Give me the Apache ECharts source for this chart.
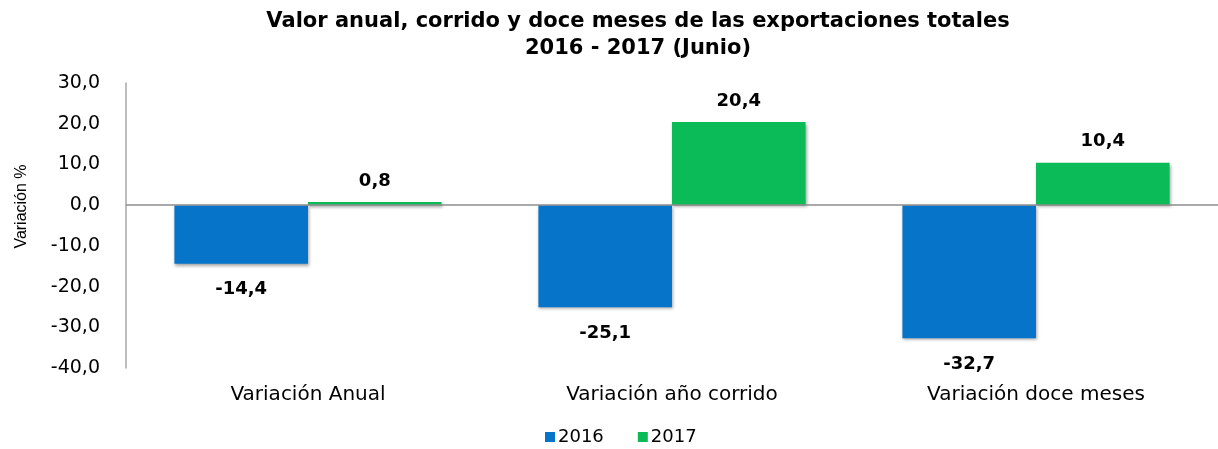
<!DOCTYPE html>
<html>
<head>
<meta charset="utf-8">
<script src="https://cdn.jsdelivr.net/npm/echarts@6/dist/echarts.min.js"></script>
<style>
    html, body { margin: 0; padding: 0; background: #fff; }
    #chart { width: 1218px; height: 449px; }
</style>
</head>
<body>
<div id="chart"></div>
<script>
    var categories = ['Variación Anual', 'Variación año corrido', 'Variación doce meses'];
    var values2016 = [-14.4, -25.1, -32.7];
    var values2017 = [0.8, 20.4, 10.4];
    var seriesNames = ['2016', '2017'];

    function fmt(v) {
        return v.toFixed(1).replace('.', ',');
    }

    // negative bars carry their label under the bar end
    function toData(arr) {
        return arr.map(function (v) {
            return {
                value: v,
                label: v < 0 ? { position: 'bottom', distance: 17 } : { position: 'top', distance: 12 }
            };
        });
    }

    var chart = echarts.init(document.getElementById('chart'));

    var barLabel = {
        show: true,
        fontFamily: 'DejaVu Sans',
        fontWeight: 'bold',
        fontSize: 18,
        color: '#000',
        formatter: function (p) { return fmt(p.value); }
    };
    var shadow = {
        shadowBlur: 3,
        shadowColor: 'rgba(0,0,0,0.35)',
        shadowOffsetX: 1,
        shadowOffsetY: 2
    };

    chart.setOption({
        animation: false,
        title: {
            text: 'Valor anual, corrido y doce meses de las exportaciones totales\n2016 - 2017 (Junio)',
            left: 633,
            textAlign: 'center',
            top: 3,
            textStyle: {
                fontFamily: 'DejaVu Sans',
                fontWeight: 'bold',
                fontSize: 21,
                lineHeight: 27,
                color: '#000'
            }
        },
        legend: {
            data: seriesNames,
            top: 423,
            left: 540,
            itemWidth: 10,
            itemHeight: 10,
            itemGap: 34,
            icon: 'rect',
            textStyle: { fontFamily: 'DejaVu Sans', fontSize: 18, color: '#000', padding: [0, 0, 0, -2] }
        },
        grid: {
            left: 126,
            right: -12,
            top: 83,
            bottom: 81
        },
        xAxis: {
            type: 'category',
            data: categories,
            axisLine: { show: false, onZero: false },
            axisTick: { show: false },
            axisLabel: {
                margin: 17,
                fontFamily: 'DejaVu Sans',
                fontSize: 20,
                color: '#000'
            }
        },
        yAxis: {
            type: 'value',
            min: -40,
            max: 30,
            interval: 10,
            name: 'Variación %',
            nameLocation: 'middle',
            nameGap: 96,
            nameTextStyle: {
                fontFamily: 'Liberation Sans',
                fontSize: 16,
                color: '#000',
                padding: [0, 0, 0, 38]
            },
            axisLine: { show: true, lineStyle: { color: '#a6a6a6', width: 1.5 } },
            axisTick: { show: false },
            splitLine: { show: false },
            axisLabel: {
                margin: 26,
                fontFamily: 'DejaVu Sans',
                fontSize: 19,
                color: '#000',
                formatter: function (v) { return fmt(v); }
            }
        },
        series: [
            {
                name: seriesNames[0],
                type: 'bar',
                data: toData(values2016),
                barGap: '0%',
                barCategoryGap: '26.6%',
                itemStyle: Object.assign({ color: '#0675C9' }, shadow),
                label: barLabel,
                markLine: {
                    silent: true,
                    symbol: 'none',
                    label: { show: false },
                    lineStyle: { color: '#8c8c8c', type: 'solid', width: 1.5 },
                    data: [{ yAxis: 0 }]
                }
            },
            {
                name: seriesNames[1],
                type: 'bar',
                data: toData(values2017),
                barGap: '0%',
                barCategoryGap: '26.6%',
                itemStyle: Object.assign({ color: '#0BBB57' }, shadow),
                label: barLabel
            }
        ]
    });
</script>
</body>
</html>
